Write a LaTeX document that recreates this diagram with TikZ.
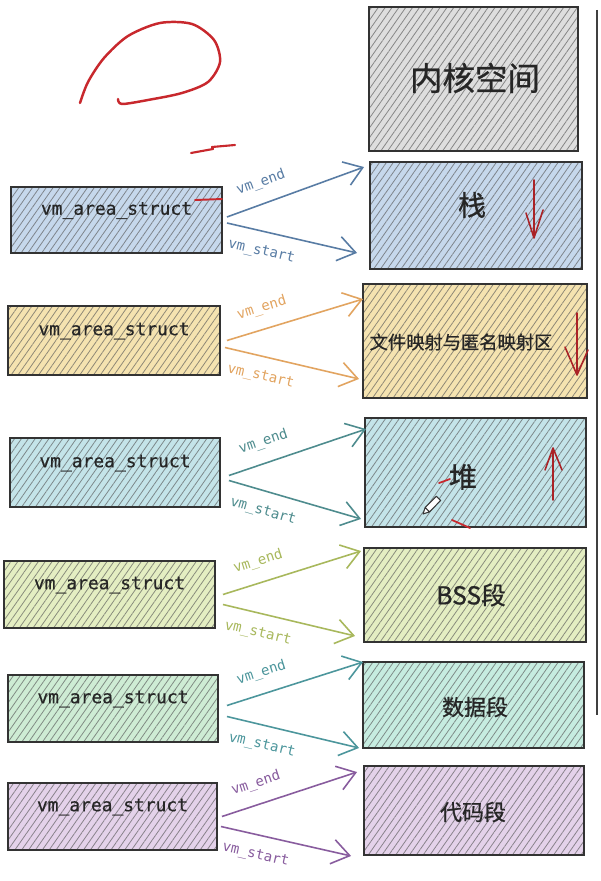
\documentclass[tikz,border=0pt]{standalone}
\usepackage{fontspec}
\setmonofont{DejaVu Sans Mono}
\newfontfamily\cjk[FakeBold=0.8]{Noto Sans CJK SC}
\newfontfamily\vmfont[FakeBold=0.5]{DejaVu Sans Mono}
\usetikzlibrary{arrows.meta, calc, patterns.meta}
\definecolor{kgray}{RGB}{222,222,222}
\definecolor{sblue}{RGB}{198,216,236}
\definecolor{fyellow}{RGB}{245,227,176}
\definecolor{hcyan}{RGB}{196,228,233}
\definecolor{blime}{RGB}{228,238,194}
\definecolor{dgreen}{RGB}{206,236,212}
\definecolor{dteal}{RGB}{198,236,224}
\definecolor{cpurple}{RGB}{228,210,234}
\definecolor{ablue}{RGB}{88,124,164}
\definecolor{aorange}{RGB}{226,164,96}
\definecolor{ateal}{RGB}{78,140,142}
\definecolor{aolive}{RGB}{168,184,92}
\definecolor{agreen}{RGB}{76,150,156}
\definecolor{apurple}{RGB}{136,92,158}
\definecolor{penred}{RGB}{200,40,45}

\begin{document}
\begin{tikzpicture}[
  x=0.02cm, y=-0.02cm,
  hatch/.style={draw=black!80, line width=1.1pt, preaction={fill=#1},
    pattern={Lines[angle=55,distance=3.2pt,line width=0.45pt]}, pattern color=#1!45!black!78},
  vma/.style={hatch=#1, minimum width=4.2cm, minimum height=1.34cm, text=black!85,
    font=\fontsize{10.2}{12}\selectfont\vmfont, text height=7pt, text depth=13pt},
  seg/.style={hatch=#1},
  segtext/.style={font=\cjk\fontsize{#1}{#1}\selectfont, text=black!85},
  link/.style={draw=#1, line width=0.9pt, -{Straight Barb[length=10pt,width=14pt]}},
  endlbl/.style={pos=0.3, above=4pt, sloped, font=\fontsize{8}{9}\selectfont\ttfamily, text=#1},
  startlbl/.style={pos=0.3, below=4pt, sloped, font=\fontsize{8}{9}\selectfont\ttfamily, text=#1},
  pen/.style={draw=penred, line width=1.4pt, line cap=round, line join=round},
  penarrow/.style={draw=penred!85!black, line width=0.9pt, line cap=round, line join=round}
]
  \useasboundingbox[fill=white] (0,0) rectangle (600,881);

  % memory segments
  \node[seg=kgray, minimum width=4.18cm, minimum height=2.88cm] (m0) at (473.5,79) {};
  \node[seg=sblue, minimum width=4.24cm, minimum height=2.14cm] (m1) at (476,215.5) {};
  \node[seg=fyellow, minimum width=4.48cm, minimum height=2.28cm] (m2) at (475,341) {};
  \node[seg=hcyan, minimum width=4.42cm, minimum height=2.18cm] (m3) at (475.5,472.5) {};
  \node[seg=blime, minimum width=4.44cm, minimum height=1.88cm] (m4) at (475,595) {};
  \node[seg=dteal, minimum width=4.42cm, minimum height=1.72cm] (m5) at (473.5,705) {};
  \node[seg=cpurple, minimum width=4.4cm, minimum height=1.78cm] (m6) at (474,810.5) {};

  \node[segtext=18.5] (t0) at (475,78) {内核空间};
  \node[segtext=16] (t1) at (472,205) {栈};
  \node[segtext=10.4] (t2) at (461,342) {文件映射与匿名映射区};
  \node[segtext=16] (t3) at (463,477) {堆};
  \node[segtext=14] (t4) at (471,595) {BSS段};
  \node[segtext=12.5] (t5) at (475,707) {数据段};
  \node[segtext=12.5] (t6) at (473,812) {代码段};

  % vm_area_struct boxes
  \node[vma=sblue, minimum width=4.22cm, minimum height=1.32cm] (s1) at (116.5,220) {vm\_area\_struct};
  \node[vma=fyellow, minimum width=4.24cm, minimum height=1.38cm] (s2) at (114,340.5) {vm\_area\_struct};
  \node[vma=hcyan, minimum height=1.38cm] (s3) at (115,472.5) {vm\_area\_struct};
  \node[vma=blime, minimum width=4.22cm] (s4) at (109.5,594.5) {vm\_area\_struct};
  \node[vma=dgreen] (s5) at (113,708.5) {vm\_area\_struct};
  \node[vma=cpurple, minimum width=4.18cm] (s6) at (112.5,816.5) {vm\_area\_struct};

  % vm_end / vm_start
  \draw[link=ablue] ($(s1.east)+(4,-3)$) -- node[endlbl=ablue] {vm\_end} ($(m1.north west)+(-5,6)$);
  \draw[link=ablue] ($(s1.east)+(4,3)$) -- node[startlbl=ablue] {vm\_start} ($(m1.south west)+(-12,-17)$);
  \draw[link=aorange] ($(s2.east)+(6,0)$) -- node[endlbl=aorange] {vm\_end} ($(m2.north west)+(1,16)$);
  \draw[link=aorange] ($(s2.east)+(4,7)$) -- node[startlbl=aorange] {vm\_start} ($(m2.south west)+(-3,-20)$);
  \draw[link=ateal] ($(s3.east)+(8,3)$) -- node[endlbl=ateal] {vm\_end} ($(m3.north west)+(2,12)$);
  \draw[link=ateal] ($(s3.east)+(8,8)$) -- node[startlbl=ateal] {vm\_start} ($(m3.south west)+(-3,-9)$);
  \draw[link=aolive] ($(s4.east)+(7,0)$) -- node[endlbl=aolive] {vm\_end} ($(m4.north west)+(-2,4)$);
  \draw[link=aolive] ($(s4.east)+(7,10)$) -- node[startlbl=aolive] {vm\_start} ($(m4.south west)+(-8,-7)$);
  \draw[link=agreen] ($(s5.east)+(8,-3)$) -- node[endlbl=agreen] {vm\_end} ($(m5.north west)+(1,1)$);
  \draw[link=agreen] ($(s5.east)+(8,8)$) -- node[startlbl=agreen] {vm\_start} ($(m5.south west)+(-3,-1)$);
  \draw[link=apurple] ($(s6.east)+(4,0)$) -- node[endlbl=apurple] {vm\_end} ($(m6.north west)+(-6,7)$);
  \draw[link=apurple] ($(s6.east)+(3,10)$) -- node[startlbl=apurple] {vm\_start} ($(m6.south west)+(-12,0)$);

  % red pen marks
  \draw[pen] plot[smooth] coordinates {(80,103) (88,82) (104,58) (128,36) (160,23) (192,24) (214,40) (220,62) (208,82) (182,93) (148,100) (122,104) (118,99)};
  \draw[pen, line width=1.2pt] (191,153) -- (213,149) -- (212,147) -- (235,145);
  \draw[pen, line width=1.1pt] (195,200) -- (222,199);
  \draw[pen, line width=1pt] (439,483) -- (450,479);
  \draw[pen, line width=1pt] (452,520) -- (470,528);
  \draw[penarrow] (534,180) -- (534,238) (526,213) -- (534,238) -- (543,210);
  \draw[penarrow] (577,313) -- (577,375) (565,347) -- (577,375) -- (588,350);
  \draw[penarrow] (553,500) -- (553,448) (545,470) -- (553,448) -- (562,470);

  % pencil cursor
  \draw[black!80, line width=0.6pt, line join=round, fill=white]
    (423,514) -- (429.4,511.9) -- (440.7,500.5) -- (436.4,496.3) -- (425.1,507.6) -- cycle
    (429.4,511.9) -- (425.1,507.6);

  \draw[black!75, line width=1pt] (597,10) -- (597,715);
\end{tikzpicture}
\end{document}
